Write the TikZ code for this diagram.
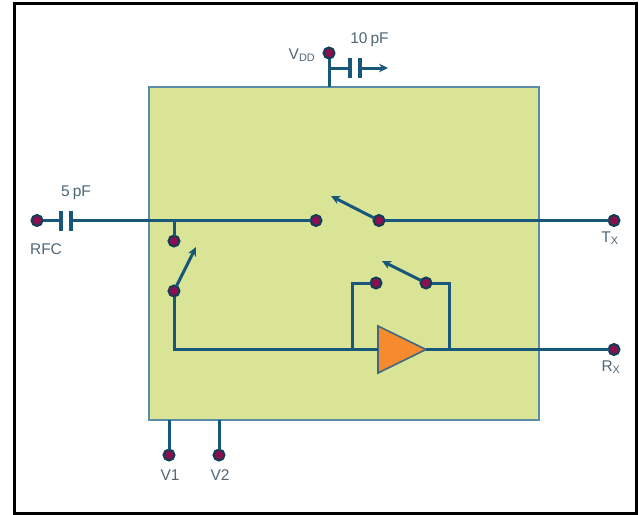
\documentclass[tikz,border=0pt]{standalone}
\usepackage{fontspec}
\setmainfont{Liberation Sans}
\usetikzlibrary{shapes.geometric, arrows.meta}
\definecolor{wire}{HTML}{17587A}
\definecolor{pad}{HTML}{8A0F4F}
\definecolor{chip}{HTML}{D9E497}
\definecolor{chipline}{HTML}{5A8CA6}
\definecolor{amp}{HTML}{F58B2E}
\definecolor{label}{HTML}{4F6676}
\begin{document}
\begin{tikzpicture}[x=1pt, y=-1pt, >={Stealth[length=9pt,width=8.5pt]}, line width=3pt, wire,
    term/.style = {draw=wire!70!black, line width=2pt, fill=pad, circle, inner sep=0pt, outer sep=0pt, minimum size=11pt},
    plate/.style = {fill=wire, inner sep=0pt, outer sep=0pt, minimum width=3.2pt, minimum height=20pt},
    txt/.style = {text=label, font=\fontsize{15.5}{17}\selectfont, inner sep=0pt}]
    \useasboundingbox (0,0) rectangle (639,514);

        \node [draw=black, line width=3pt, minimum width=622pt, minimum height=510pt, inner sep=0pt] (frame) at (325.75,258.25) {};
        \node [draw=chipline, line width=1.3pt, fill=chip, minimum width=390pt, minimum height=333pt, inner sep=0pt] (chip) at (344,253.5) {};

        \node [term] (rfc) at (37,220.5) {};
        \node [term] (tx) at (614,220.5) {};
        \node [term] (rx) at (614,349.5) {};
        \node [term] (vdd) at (329,53) {};
        \node [term] (v1) at (169,455) {};
        \node [term] (v2) at (219,455) {};
        \node [term] (sw1a) at (316,220.5) {};
        \node [term] (sw1b) at (379,220.5) {};
        \node [term] (sw2a) at (174,241) {};
        \node [term] (sw2b) at (174,291) {};
        \node [term] (sw3a) at (376,283) {};
        \node [term] (sw3b) at (426,283) {};
        \node [plate] (c1a) at (61,220.5) {};
        \node [plate] (c1b) at (71,220.5) {};
        \node [plate] (c2a) at (350,68) {};
        \node [plate] (c2b) at (360,68) {};
        \node [isosceles triangle, isosceles triangle stretches, shape border rotate=0, draw=wire!60!gray, line width=1.6pt, outer sep=0pt, fill=amp, minimum width=47pt, minimum height=48pt, inner sep=0pt, anchor=lower side] (lna) at (378,349.5) {};

        \coordinate (vddtop) at (329,87);
        \coordinate (vddtee) at (329,68);
        \coordinate (gnd) at (388,68);
        \coordinate (tee) at (174,220.5);
        \coordinate (v1top) at (169,420);
        \coordinate (v2top) at (219,420);
        \coordinate (sw1tip) at (331,196);
        \coordinate (sw2tip) at (196,247);
        \coordinate (sw3tip) at (382,261);
        \coordinate (bypl) at (352,349.5);
        \coordinate (bypr) at (449,349.5);

        \draw (rfc) to (c1a);
        \draw (c1b) to (sw1a);
        \draw (tee) to (sw2a);
        \draw (sw1b) to (tx);
        \draw (vdd) to (vddtop);
        \draw (vddtee) to (c2a);
        \draw[->] (c2b) to (gnd);
        \draw (v1) to (v1top);
        \draw (v2) to (v2top);
        \draw[->] (sw1b) to (sw1tip);
        \draw[->] (sw2b) to (sw2tip);
        \draw[->] (sw3b) to (sw3tip);
        \draw (sw2b) |- (lna.lower side);
        \draw (lna.apex) to (rx);
        \draw (bypl) |- (sw3a);
        \draw (bypr) |- (sw3b);

        \node [txt] (lblvdd) at (302,55) {V\textsubscript{DD}};
        \node [txt] (lblc2) at (369.5,40) {10\hspace{3pt}pF};
        \node [txt] (lblc1) at (76,193) {5\hspace{3pt}pF};
        \node [txt] (lblrfc) at (46,249) {RFC};
        \node [txt] (lbltx) at (610,238) {T\textsubscript{X}};
        \node [txt] (lblrx) at (611,367) {R\textsubscript{X}};
        \node [txt] (lblv1) at (170,475) {V1};
        \node [txt] (lblv2) at (220,475) {V2};

    \end{tikzpicture}
\end{document}
